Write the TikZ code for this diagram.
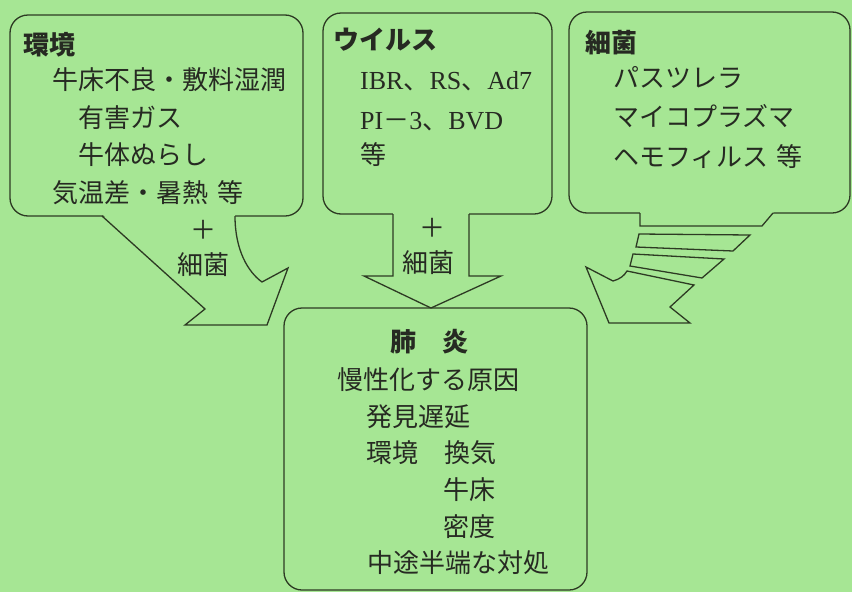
\documentclass[tikz,border=0pt]{standalone}
\usepackage{fontspec}
\setmainfont{Liberation Serif}
\newfontfamily\jp{Noto Sans CJK JP}
\definecolor{bg}{RGB}{166,230,148}
\definecolor{ln}{RGB}{45,58,35}
\definecolor{tx}{RGB}{38,42,34}
\newcommand{\latn}[1]{{\rmfamily #1}}
\tikzset{
  box/.style={draw=ln, line width=1.3pt, rounded corners=18pt, inner sep=0pt},
  txt/.style={anchor=base west, inner sep=0pt, text=tx, font=\jp\fontsize{26}{30}\selectfont},
  hd/.style={txt, font=\jp\bfseries\fontsize{26}{30}\selectfont},
  ctr/.style={txt, anchor=base},
  conn/.style={draw=ln, line width=1.3pt, line join=miter},
}
\begin{document}
\begin{tikzpicture}[x=1pt,y=-1pt]
\fill[bg] (0,0) rectangle (852,592);
\useasboundingbox (0,0) rectangle (852,592);
% boxes
\node[box, minimum width=293pt, minimum height=201pt] (env) at (156.5,115.5) {};
\node[box, minimum width=229pt, minimum height=201pt] (vir) at (437.5,113.5) {};
\node[box, minimum width=281pt, minimum height=201pt] (bac) at (709.5,112.5) {};
\node[box, minimum width=303pt, minimum height=282pt] (pn) at (435.5,449) {};
% arrow 1 (environment, curved)
\fill[bg] (102,214) -- (205,309) -- (185,325) -- (267,325) -- (288,268) -- (262,282)
  .. controls (248,272) and (235,250) .. (235,214) -- cycle;
\draw[conn] (102,216) -- (205,309) -- (185,325) -- (267,325) -- (288,268) -- (262,282)
  .. controls (248,272) and (235,250) .. (235,216);
% arrow 2 (virus, straight down)
\fill[bg] (393,211) rectangle (469,277);
\draw[conn] (393,214) -- (393,276) -- (364,276) -- (431,308) -- (501,276) -- (469,276) -- (469,214);
% arrow 3 (bacteria, speed arrow)
\fill[bg] (640,211) -- (640,226) -- (762,226) -- (774.5,211) -- cycle;
\draw[conn] (640,213) -- (640,226) -- (762,226) -- (773,213);
\draw[conn] (639,234) -- (750,235) -- (733,251) -- (636,247) -- cycle;
\draw[conn] (633,254) -- (724,259) -- (702,278) -- (630,266) -- cycle;
\draw[conn] (586,267) -- (613,281) .. controls (620,279) and (624,276) .. (627,271)
  -- (694,285) -- (670,307) -- (690,323) -- (609,323) -- cycle;
% texts: environment
\node[hd] (t1) at (23,54.5) {環境};
\node[txt] (t2) at (52,89.5) {牛床不良・敷料湿潤};
\node[txt] (t3) at (78,127.5) {有害ガス};
\node[txt] (t4) at (78,164.5) {牛体ぬらし};
\node[txt] (t5) at (52,202.5) {気温差・暑熱\hspace{9pt}等};
\node[ctr] (t6) at (203,239.5) {＋};
\node[ctr] (t7) at (203.5,274.5) {細菌};
% texts: virus
\node[hd] (v1) at (333,49.5) {ウイルス};
\node[txt] (v2) at (360,89.5) {\latn{IBR}、\latn{RS}、\latn{Ad7}};
\node[txt] (v3) at (360,129.5) {\latn{PI}－\latn{3}、\latn{BVD}};
\node[txt] (v4) at (360,164.5) {等};
\node[ctr] (v5) at (432,237.5) {＋};
\node[ctr] (v6) at (428,272.5) {細菌};
% texts: bacteria
\node[hd] (b1) at (585,52.5) {細菌};
\node[txt] (b2) at (613,87.5) {パスツレラ};
\node[txt] (b3) at (613,126.5) {マイコプラズマ};
\node[txt] (b4) at (613,166.5) {ヘモフィルス\hspace{8pt}等};
% texts: pneumonia
\node[hd] (p1) at (390,351.5) {肺　炎};
\node[txt] (p2) at (337,389.5) {慢性化する原因};
\node[txt] (p3) at (366,426.5) {発見遅延};
\node[txt] (p4) at (366,462.5) {環境　換気};
\node[txt] (p5) at (443,499.5) {牛床};
\node[txt] (p6) at (443,536.5) {密度};
\node[txt] (p7) at (367,572.5) {中途半端な対処};
\end{tikzpicture}
\end{document}
